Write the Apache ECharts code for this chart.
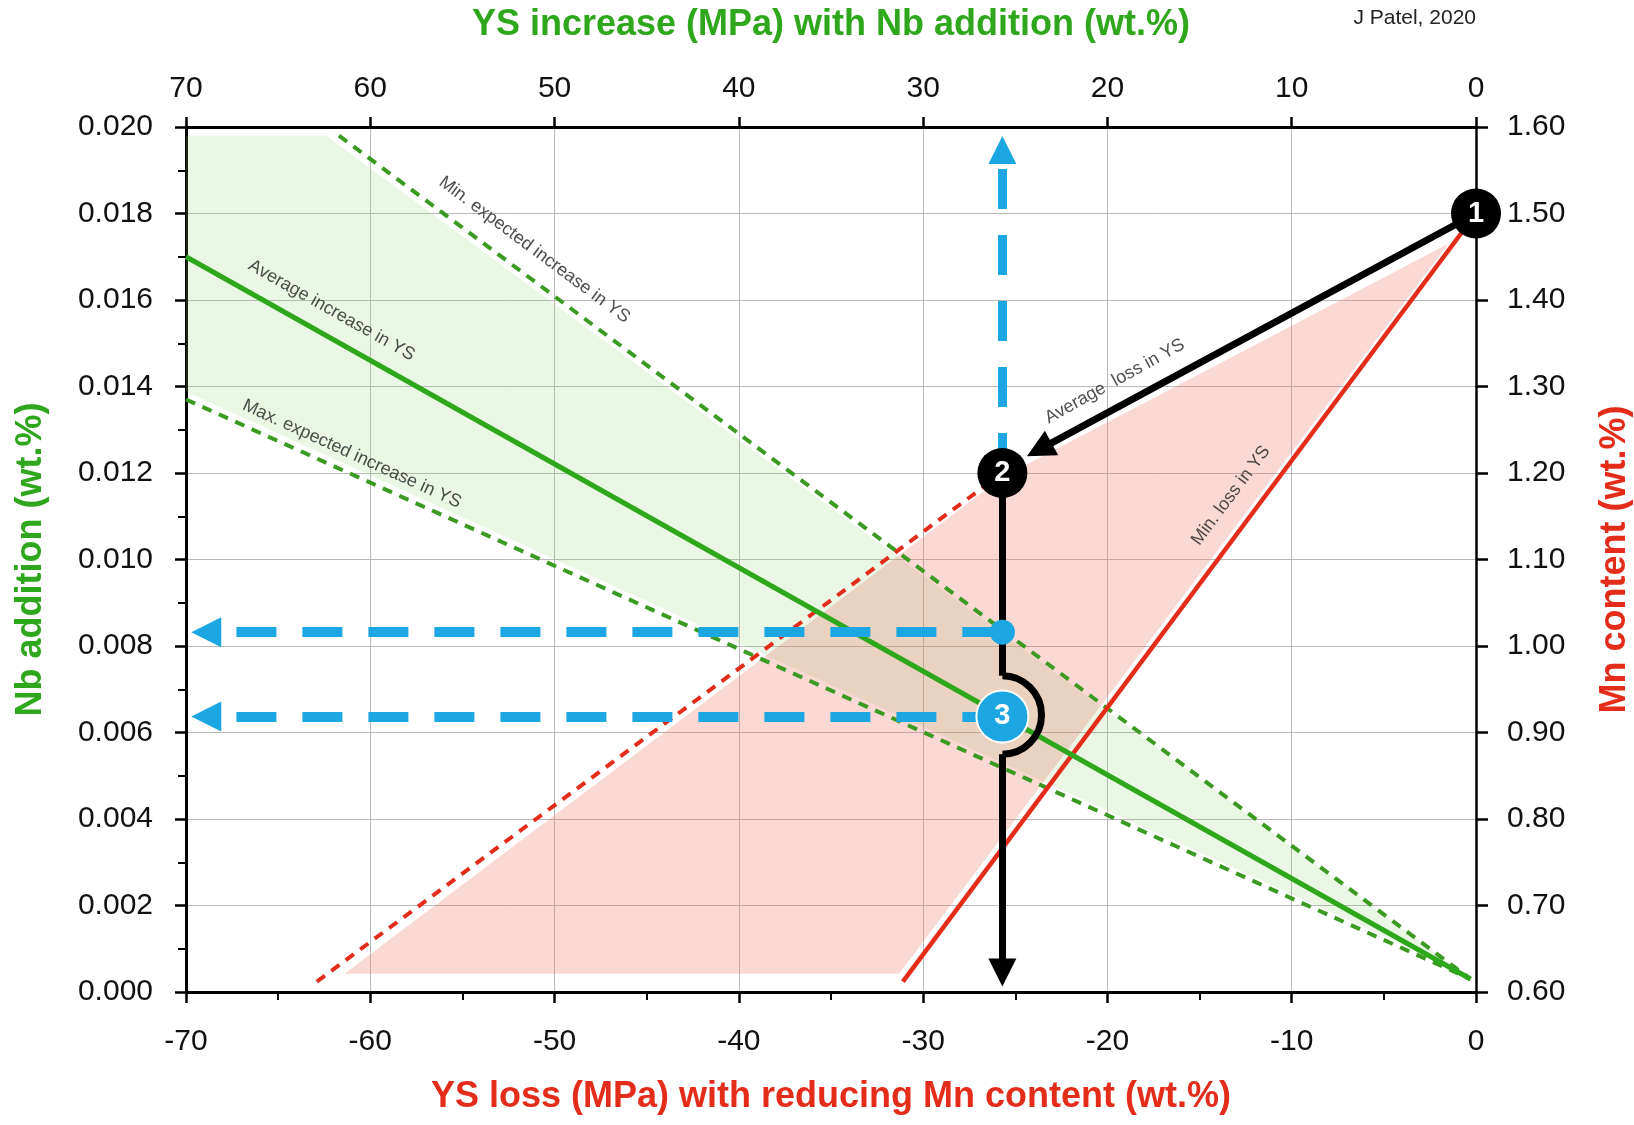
<!DOCTYPE html>
<html>
<head>
<meta charset="utf-8">
<script src="https://cdn.jsdelivr.net/npm/echarts@6/dist/echarts.min.js"></script>
<style>
  html, body { margin: 0; padding: 0; background: #fff; }
  #chart { width: 1634px; height: 1125px; }
</style>
</head>
<body>
<div id="chart"></div>
<script>
// YS loss (MPa) on the bottom axis; the top axis shows the same scale as YS increase
const ysTicks = [-70, -60, -50, -40, -30, -20, -10, 0]

// Nb addition (wt.%) against YS change: [YS, Nb]
const avgIncrease = [[-70, 0.0170], [-0.3, 0.0003]]
const minIncrease = [[-61.7, 0.0198], [-0.3, 0.0003]]
const maxIncrease = [[-70, 0.0137], [-0.3, 0.0003]]
const greenBand = [[-70, 0.0198], [-62.4, 0.0198], [-0.9, 0.0005], [-70, 0.01388]]

// Mn content (wt.%) against YS change: [YS, Mn]
const minLoss = [[0, 1.50], [-31.1, 0.612]]
const maxLoss = [[-62.9, 0.612], [-25.7, 1.20]]
const redBand = [[-25.7, 1.195], [-1.5, 1.465], [-31.3, 0.621], [-61.4, 0.621]]
const avgLossArrow = [[0, 1.50], [-23.7, 1.227]]

// the worked example
const stepX = -25.7
const stepMn = [1.50, 1.20]          // points 1 and 2
const stepNbMin = 0.00832            // where the path meets the min. expected line
const stepNbAvg = 0.00637            // point 3, on the average line
const upArrow = [[stepX, 0.0120], [stepX, 0.01947]]
const leftArrowMin = [[stepX, stepNbMin], [-68.9, stepNbMin]]
const leftArrowAvg = [[stepX, stepNbAvg], [-68.9, stepNbAvg]]
const downUpper = [[stepX, 0.0120], [stepX, 0.00731]]
const downLower = [[stepX, 0.0055], [stepX, 0.00045]]

// notes written along the lines: [text, YS, Nb, angle]
const lineNotes = [
  ["Average increase in YS", -62.1, 0.01576, -29.4],
  ["Max. expected increase in YS", -61.0, 0.01244, -24.5],
  ["Min. expected increase in YS", -51.1, 0.01716, -36.7],
  ["Average  loss in YS", -19.6, 0.01412, 29],
  ["Min. loss in YS", -13.3, 0.01148, 53.2],
]

const GREEN = "#2fa71c"
const GREEN_DASH = "#3b9a22"
const RED = "#e42c1b"
const BLUE = "#1ca6e2"
const FONT = "'Liberation Sans', Arial, Helvetica, sans-serif"

const chart = echarts.init(document.getElementById("chart"))

function band(points, yAxisIndex, color) {
  return {
    type: "custom",
    xAxisIndex: 0,
    yAxisIndex: yAxisIndex,
    silent: true,
    z: 1,
    data: [points[0]],
    renderItem: (params, api) => ({
      type: "polygon",
      shape: { points: points.map((p) => api.coord(p)) },
      style: { fill: color },
    }),
  }
}

function arrow(coords, color, width, dash, size, z) {
  return {
    type: "lines",
    coordinateSystem: "cartesian2d",
    xAxisIndex: 0,
    yAxisIndex: 0,
    silent: true,
    z: z,
    symbol: ["none", "triangle"],
    symbolSize: size,
    lineStyle: { color: color, width: width, type: dash, opacity: 1, cap: "butt" },
    data: [{ coords: coords }],
  }
}

const axisTickStyle = { color: "#000", width: 2.5 }

const option = {
  backgroundColor: "#fff",
  animation: false,
  textStyle: { fontFamily: FONT },
  grid: {
    left: 186,
    right: 158,
    top: 127,
    bottom: 133,
    containLabel: false,
    outerBoundsMode: "none",
  },
  xAxis: [
    {
      type: "value",
      position: "bottom",
      min: ysTicks[0],
      max: ysTicks[ysTicks.length - 1],
      interval: 10,
      name: "YS loss (MPa) with reducing Mn content (wt.%)",
      nameLocation: "middle",
      nameGap: 87,
      nameTextStyle: { color: RED, fontSize: 36, fontWeight: "bold", fontFamily: FONT },
      axisLine: { onZero: false, lineStyle: { color: "#000", width: 3 } },
      axisTick: { show: true, length: 11, lineStyle: axisTickStyle },
      minorTick: { show: true, splitNumber: 2, length: 8, lineStyle: { color: "#000", width: 2 } },
      axisLabel: { color: "#111", fontSize: 30, margin: 35, fontFamily: FONT },
      splitLine: { show: true, lineStyle: { color: "#b9b9b9", width: 1 } },
    },
    {
      type: "value",
      position: "top",
      min: ysTicks[0],
      max: ysTicks[ysTicks.length - 1],
      interval: 10,
      name: "YS increase (MPa) with Nb addition (wt.%)",
      nameLocation: "middle",
      nameGap: 84,
      nameTextStyle: { color: GREEN, fontSize: 36, fontWeight: "bold", fontFamily: FONT },
      axisLine: { onZero: false, lineStyle: { color: "#000", width: 3 } },
      axisTick: { show: true, length: 10, lineStyle: axisTickStyle },
      minorTick: { show: false },
      axisLabel: {
        color: "#111",
        fontSize: 30,
        margin: 23,
        fontFamily: FONT,
        formatter: (v) => String(Math.abs(v)),
      },
      splitLine: { show: false },
    },
  ],
  yAxis: [
    {
      type: "value",
      position: "left",
      min: 0,
      max: 0.02,
      interval: 0.002,
      name: "Nb addition (wt.%)",
      nameLocation: "middle",
      nameRotate: 90,
      nameGap: 137,
      nameTextStyle: { color: GREEN, fontSize: 36, fontWeight: "bold", fontFamily: FONT },
      axisLine: { show: true, onZero: false, lineStyle: { color: "#000", width: 3 } },
      axisTick: { show: true, length: 11, lineStyle: axisTickStyle },
      minorTick: { show: true, splitNumber: 2, length: 8, lineStyle: { color: "#000", width: 2 } },
      axisLabel: {
        color: "#111",
        fontSize: 30,
        margin: 33,
        fontFamily: FONT,
        showMinLabel: true,
        showMaxLabel: true,
        formatter: (v) => v.toFixed(3),
      },
      splitLine: { show: true, lineStyle: { color: "#b9b9b9", width: 1 } },
    },
    {
      type: "value",
      position: "right",
      min: 0.6,
      max: 1.6,
      interval: 0.1,
      alignTicks: false,
      name: "Mn content (wt.%)",
      nameLocation: "middle",
      nameRotate: 90,
      nameGap: 121,
      nameTextStyle: { color: RED, fontSize: 36, fontWeight: "bold", fontFamily: FONT },
      axisLine: { show: true, onZero: false, lineStyle: { color: "#000", width: 2.5 } },
      axisTick: { show: true, length: 12, lineStyle: axisTickStyle },
      minorTick: { show: false },
      axisLabel: {
        color: "#111",
        fontSize: 30,
        margin: 31,
        fontFamily: FONT,
        showMinLabel: true,
        showMaxLabel: true,
        formatter: (v) => v.toFixed(2),
      },
      splitLine: { show: false },
    },
  ],
  graphic: [
    {
      type: "text",
      right: 158,
      top: 8,
      style: { text: "J Patel, 2020", fontSize: 21, fill: "#222", fontFamily: FONT },
    },
  ],
  series: [
    band(greenBand, 0, "rgba(140, 210, 110, 0.18)"),
    band(redBand, 1, "rgba(238, 110, 92, 0.27)"),
    {
      name: "Min. expected increase in YS",
      type: "line",
      yAxisIndex: 0,
      data: minIncrease,
      showSymbol: false,
      silent: true,
      z: 3,
      lineStyle: { color: GREEN_DASH, width: 4, type: [10, 8] },
    },
    {
      name: "Max. expected increase in YS",
      type: "line",
      yAxisIndex: 0,
      data: maxIncrease,
      showSymbol: false,
      silent: true,
      z: 3,
      lineStyle: { color: GREEN_DASH, width: 4, type: [10, 8] },
    },
    {
      name: "Max. loss in YS",
      type: "line",
      yAxisIndex: 1,
      data: maxLoss,
      showSymbol: false,
      silent: true,
      z: 3,
      lineStyle: { color: RED, width: 4, type: [10, 8] },
    },
    {
      name: "Min. loss in YS",
      type: "line",
      yAxisIndex: 1,
      data: minLoss,
      showSymbol: false,
      silent: true,
      z: 3,
      lineStyle: { color: RED, width: 4.5 },
    },
    {
      name: "Average increase in YS",
      type: "line",
      yAxisIndex: 0,
      data: avgIncrease,
      showSymbol: false,
      silent: true,
      z: 4,
      lineStyle: { color: GREEN, width: 5 },
    },
    // blue read-off arrows
    arrow(upArrow, BLUE, 9, [40, 26], 28, 5),
    arrow(leftArrowMin, BLUE, 10, [40, 26], 30, 5),
    arrow(leftArrowAvg, BLUE, 10, [40, 26], 30, 5),
    // black path: 1 -> 2, then straight down with a hop round 3
    {
      type: "lines",
      coordinateSystem: "cartesian2d",
      xAxisIndex: 0,
      yAxisIndex: 1,
      silent: true,
      z: 6,
      symbol: ["none", "triangle"],
      symbolSize: 28,
      lineStyle: { color: "#000", width: 7, opacity: 1 },
      data: [{ coords: avgLossArrow }],
    },
    {
      type: "lines",
      coordinateSystem: "cartesian2d",
      xAxisIndex: 0,
      yAxisIndex: 0,
      silent: true,
      z: 6,
      symbol: ["none", "none"],
      lineStyle: { color: "#000", width: 7, opacity: 1 },
      data: [{ coords: downUpper }],
    },
    arrow(downLower, "#000", 7, "solid", 28, 6),
    {
      type: "custom",
      xAxisIndex: 0,
      yAxisIndex: 0,
      silent: true,
      z: 6,
      data: [[stepX, stepNbAvg]],
      renderItem: (params, api) => {
        const top = api.coord([stepX, downUpper[1][1]])
        const bottom = api.coord([stepX, downLower[0][1]])
        const r = (bottom[1] - top[1]) / 2
        return {
          type: "arc",
          shape: {
            cx: top[0],
            cy: top[1] + r,
            r: r,
            startAngle: -Math.PI / 2,
            endAngle: Math.PI / 2,
            clockwise: true,
          },
          style: { stroke: "#000", lineWidth: 7, fill: null },
        }
      },
    },
    // notes along the lines
    {
      type: "scatter",
      xAxisIndex: 0,
      yAxisIndex: 0,
      silent: true,
      z: 7,
      symbolSize: 0,
      data: lineNotes.map((n) => ({
        value: [n[1], n[2]],
        label: {
          show: true,
          position: "inside",
          formatter: n[0],
          rotate: n[3],
          fontSize: 18,
          color: "#222",
          fontFamily: FONT,
        },
      })),
    },
    // numbered steps
    {
      type: "scatter",
      xAxisIndex: 0,
      yAxisIndex: 0,
      silent: true,
      z: 8,
      symbolSize: 25,
      itemStyle: { color: BLUE, opacity: 1 },
      data: [[stepX, stepNbMin]],
    },
    {
      type: "scatter",
      xAxisIndex: 0,
      yAxisIndex: 1,
      silent: true,
      z: 9,
      symbolSize: 50,
      itemStyle: { color: "#000", opacity: 1 },
      label: {
        show: true,
        position: "inside",
        color: "#fff",
        fontSize: 29,
        fontWeight: "bold",
        fontFamily: FONT,
        formatter: (p) => String(p.dataIndex + 1),
      },
      data: [[0, stepMn[0]], [stepX, stepMn[1]]],
    },
    {
      type: "scatter",
      xAxisIndex: 0,
      yAxisIndex: 0,
      silent: true,
      z: 9,
      symbolSize: 52,
      itemStyle: { color: BLUE, borderColor: "#fff", borderWidth: 2, opacity: 1 },
      label: {
        show: true,
        position: "inside",
        color: "#fff",
        fontSize: 29,
        fontWeight: "bold",
        fontFamily: FONT,
        formatter: "3",
      },
      data: [[stepX, stepNbAvg]],
    },
  ],
}

chart.setOption(option)
</script>
</body>
</html>
